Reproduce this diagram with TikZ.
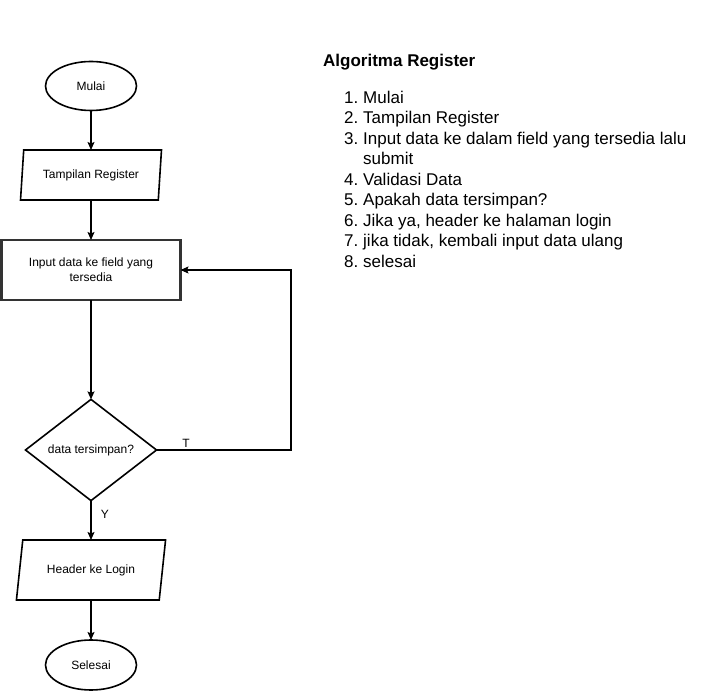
\documentclass[tikz,border=0pt]{standalone}
\usepackage{fontspec}
\setmainfont{Liberation Sans}
\usetikzlibrary{shapes.geometric,arrows.meta}
\begin{document}
\begin{tikzpicture}[x=1pt,y=-1pt,
  shp/.style={draw=black, line width=1.6pt, font=\fontsize{12}{15}\selectfont, inner sep=1pt, outer sep=0pt, align=center},
  term/.style={shp, ellipse, minimum width=91pt, minimum height=49pt},
  io/.style={shp, trapezium, trapezium stretches=true},
  proc/.style={shp, rectangle, draw=black!80, line width=2.2pt, minimum width=179pt, minimum height=60pt},
  dec/.style={shp, diamond, minimum width=131pt, minimum height=100pt},
  arr/.style={draw=black, line width=1.2pt, -{Stealth[length=8pt,width=7pt,inset=1.5pt]}},
  lbl/.style={font=\fontsize{12}{14}\selectfont, inner sep=0pt},
  txt/.style={font=\fontsize{17}{20}\selectfont, inner sep=0pt, anchor=base west},
  num/.style={font=\fontsize{17}{20}\selectfont, inner sep=0pt, anchor=base east}]
\useasboundingbox (0,0) rectangle (702,692);
% flowchart
\node[term] (mulai) at (91,86) {Mulai};
\node[io, trapezium left angle=80, trapezium right angle=100, minimum width=141pt, minimum height=50pt] (tampil) at (91,175) {Tampilan Register};
\node[proc] (input) at (91,270) {Input data ke field yang\\tersedia};
\node[dec] (cek) at (91,450) {data tersimpan?};
\node[io, trapezium left angle=72.4, trapezium right angle=107.6, minimum width=150pt, minimum height=60pt] (header) at (91,570) {Header ke Login};
\node[term, minimum height=50pt] (selesai) at (91,665) {Selesai};
\coordinate (loopx) at (291,450);
\draw[arr] (mulai) -- (tampil);
\draw[arr] (tampil) -- (input);
\draw[arr] (input) -- (cek);
\draw[arr] (cek) -- (header);
\draw[arr] (header) -- (selesai);
\draw[arr] (cek.east) -- (loopx) |- (input.east);
\node[lbl] (labT) at (186,443) {T};
\node[lbl] (labY) at (105,514) {Y};
% algorithm text
\node[txt, font=\fontsize{17}{20}\selectfont\bfseries] (judul) at (323,67) {Algoritma Register};
\node[num] (n1) at (358.5,103.5) {1.};
\node[txt] (t1) at (363,103.5) {Mulai};
\node[num] (n2) at (358.5,124) {2.};
\node[txt] (t2) at (363,124) {Tampilan Register};
\node[num] (n3) at (358.5,144.5) {3.};
\node[txt] (t3) at (363,144.5) {Input data ke dalam field yang tersedia lalu};
\node[txt] (t3b) at (363,165) {submit};
\node[num] (n4) at (358.5,185.5) {4.};
\node[txt] (t4) at (363,185.5) {Validasi Data};
\node[num] (n5) at (358.5,206) {5.};
\node[txt] (t5) at (363,206) {Apakah data tersimpan?};
\node[num] (n6) at (358.5,226.5) {6.};
\node[txt] (t6) at (363,226.5) {Jika ya, header ke halaman login};
\node[num] (n7) at (358.5,247) {7.};
\node[txt] (t7) at (363,247) {jika tidak, kembali input data ulang};
\node[num] (n8) at (358.5,267.5) {8.};
\node[txt] (t8) at (363,267.5) {selesai};
\end{tikzpicture}
\end{document}
